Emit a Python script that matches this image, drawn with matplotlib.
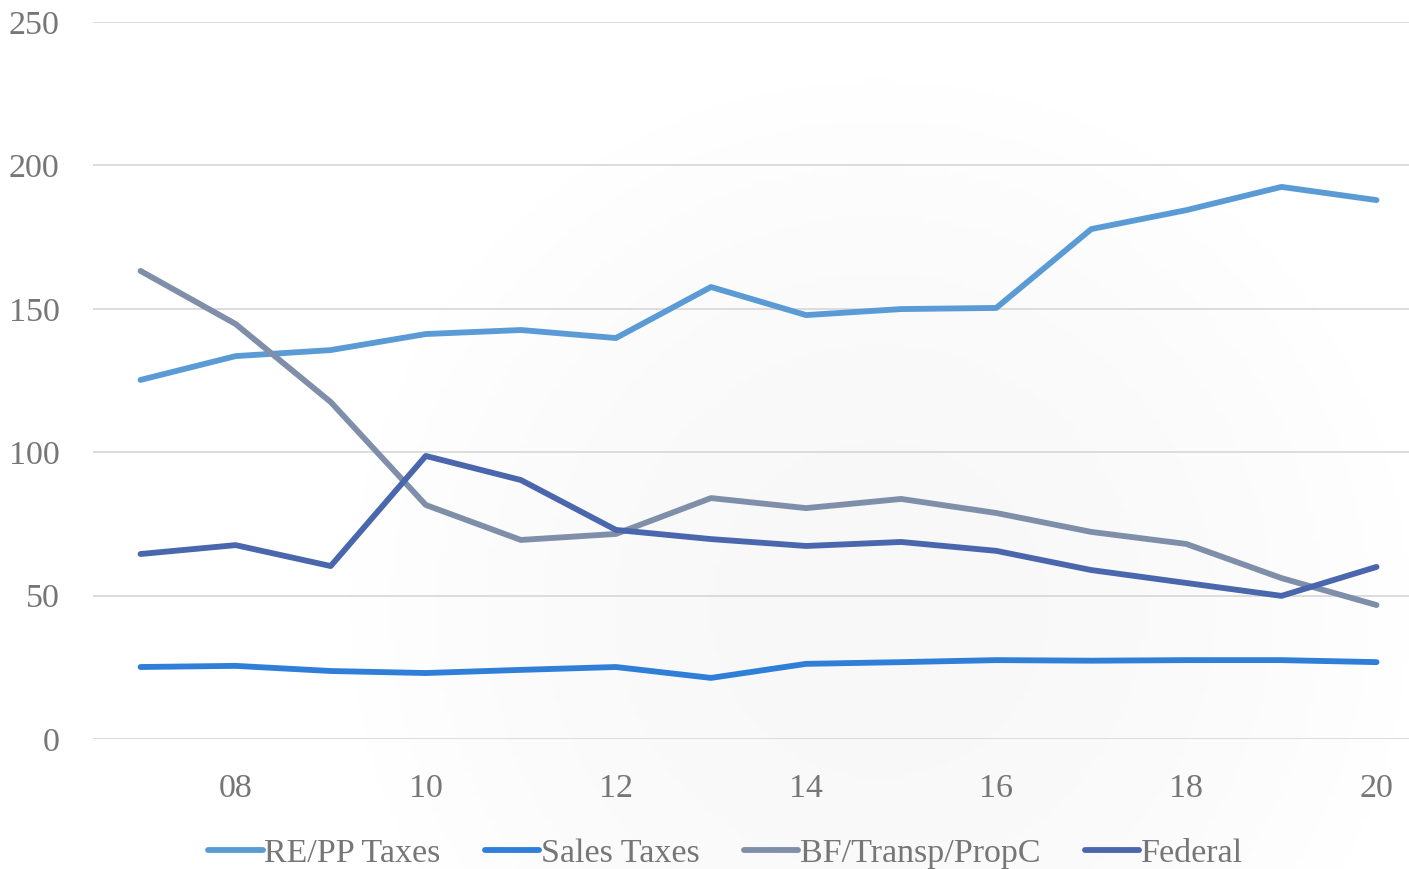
import numpy as np
import matplotlib.pyplot as plt

# data
years = [2007, 2008, 2009, 2010, 2011, 2012, 2013, 2014, 2015, 2016, 2017, 2018, 2019, 2020]
re_pp = [125.2, 133.5, 135.6, 141.2, 142.6, 139.8, 157.6, 147.8, 149.9, 150.3, 177.8, 184.4, 192.5, 187.9]
sales = [25.1, 25.5, 23.7, 23.0, 24.1, 25.1, 21.3, 26.2, 26.8, 27.5, 27.3, 27.5, 27.5, 26.8]
bf_transp = [163.2, 144.7, 117.5, 81.6, 69.4, 71.5, 84.0, 80.5, 83.7, 78.8, 72.2, 68.0, 56.1, 46.7]
federal = [64.5, 67.6, 60.3, 98.7, 90.3, 72.9, 69.7, 67.3, 68.7, 65.6, 58.9, 54.4, 49.9, 60.0]

labels = ['RE/PP Taxes', 'Sales Taxes', 'BF/Transp/PropC', 'Federal']
colors = ['#5B9BD5', '#2F7ED8', '#7F8FA9', '#4A66AC']
xtick_years = [2008, 2010, 2012, 2014, 2016, 2018, 2020]
yticks = [0, 50, 100, 150, 200, 250]

plt.rcParams['font.family'] = ['Liberation Serif', 'DejaVu Serif']
txt_color = '#767676'

fig = plt.figure(figsize=(14.09, 8.69), dpi=100)

# faint radial shading behind the plot
bg = fig.add_axes([0, 0, 1, 1], zorder=0)
gx, gy = np.meshgrid(np.linspace(0, 1409, 300), np.linspace(0, 869, 200))
r = np.sqrt((gx - 880) ** 2 + (gy - 610) ** 2) / 570
shade = 1 - 0.03 * np.clip(1 - r ** 2, 0, 1)
bg.imshow(shade, cmap='gray', vmin=0, vmax=1, extent=[0, 1409, 869, 0], aspect='auto')
bg.axis('off')

ax = fig.add_axes([0.066, 0.1496, 0.9447, 0.8251], zorder=1)
ax.patch.set_alpha(0)

for vals, lab, col in zip([re_pp, sales, bf_transp, federal], labels, colors):
    ax.plot(years, vals, color=col, lw=4.2, label=lab, solid_capstyle='round', solid_joinstyle='round')

ax.set_xlim(2006.5, 2020.5)
ax.set_ylim(0, 250)
ax.set_yticks(yticks)
ax.set_xticks(xtick_years)
ax.set_xticklabels([str(y)[2:] for y in xtick_years])
ax.yaxis.grid(True, color='#D9D9D9', lw=1.3)
ax.set_axisbelow(True)
for s in ax.spines.values():
    s.set_visible(False)
ax.tick_params(length=0, labelsize=24.5, colors=txt_color)
ax.tick_params(axis='y', pad=24)
ax.tick_params(axis='x', pad=25)

leg = fig.legend(loc='center', bbox_to_anchor=(0.515, 0.018), ncol=4, frameon=False,
                 fontsize=24.5, handlelength=1.6, handletextpad=0.05, columnspacing=1.3,
                 labelcolor=txt_color)

plt.savefig('out.png', dpi=100)
